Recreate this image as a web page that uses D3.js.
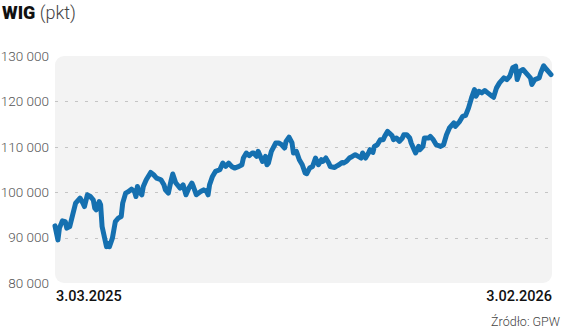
<!DOCTYPE html>
<html><head><meta charset="utf-8">
<script src="https://cdn.jsdelivr.net/npm/d3@7"></script>
<style>body{margin:0;background:#fff}svg{display:block}</style>
</head><body><svg id="c" width="564" height="334"></svg>
<script>
const startDate = "2025-03-03";
const endDate = "2026-02-03";
const dayOffsets = [0,2,3,5,7,8,10,12,14,17,19,20,22,24,26,27,28,30,31,32,34,35,36,37,39,40,41,43,45,46,48,50,52,54,55,56,57,59,60,62,65,67,69,72,74,75,77,79,80,82,85,87,89,91,93,94,96,99,101,103,104,105,107,109,112,114,116,118,120,122,125,127,128,130,132,134,135,137,138,140,141,143,144,145,147,150,152,154,156,157,159,161,162,164,166,168,170,171,173,175,177,178,179,181,182,184,186,187,190,191,193,195,196,198,200,202,204,206,208,209,211,213,214,216,217,219,221,223,224,226,227,229,230,232,234,236,237,239,241,242,244,245,247,248,250,251,254,255,257,259,262,264,266,268,271,272,275,277,279,281,283,285,286,288,290,292,294,297,298,300,302,305,307,309,311,313,314,316,318,320,323,324,326,329,330,332,334,336,337];
const values = [92580,89490,92080,93690,93530,92080,92430,95010,97590,98700,97590,96840,99430,99050,98320,96490,96120,97950,97220,92430,89490,88010,88760,88010,89870,91700,93530,94280,94640,97590,99800,100150,100680,100150,99050,101260,100150,99430,101260,102740,104350,103840,103110,102740,101630,100530,99800,102740,104000,102080,100900,101630,99430,100900,102010,101260,99430,100150,100530,100150,99430,101630,103470,104570,104950,106420,105670,106420,105670,105320,105670,106050,107530,108630,108040,108630,108630,107880,108990,107530,106780,107880,106050,106420,108990,110840,110840,110460,109740,111190,112120,110900,108630,108990,107150,106050,104220,104060,105320,105670,107530,106780,106050,107150,106780,107530,106420,105670,105450,105670,106050,106560,106420,106780,107530,107880,108260,107880,107530,108630,107530,108630,109360,108760,110090,110460,111570,111570,112300,113400,113050,112450,111570,111940,111190,111940,112670,112670,111940,110840,109360,108630,110090,109360,110090,111940,111940,112300,111570,110460,110090,110460,112670,114150,115250,114500,115610,116710,116930,118570,120770,122600,121130,122230,121880,122380,121880,121130,120910,122980,124080,125190,124810,125540,127400,127750,124810,126650,127020,126290,125190,123710,124810,125190,126290,127840,127020,126290,125920];
const yTicks = [80000,90000,100000,110000,120000,130000];
const gridTicks = [90000,100000,110000,120000];
const xLabels = ["3.03.2025","3.02.2026"];
const titleMain = "WIG";
const titleUnit = "(pkt)";
const sourceText = "Źródło: GPW";

const svg = d3.select("#c");
const mL = 55, mR = 552, mT = 56, mB = 283;
const parse = d3.timeParse("%Y-%m-%d");
const d0 = parse(startDate), d1 = parse(endDate);
const data = dayOffsets.map((o,i)=>({date:d3.timeDay.offset(d0,o), value:values[i]}));

const x = d3.scaleTime().domain([d0,d1]).range([mL,mR-1]);
const y = d3.scaleLinear().domain([80000,130000]).range([mB,mT]);

svg.append("rect").attr("x",mL).attr("y",mT).attr("width",mR-mL).attr("height",mB-mT)
  .attr("rx",9).attr("fill","#f3f3f3");

svg.append("g").selectAll("line").data(gridTicks).join("line")
  .attr("x1",mL).attr("x2",mR).attr("y1",d=>Math.round(y(d))+0.5).attr("y2",d=>Math.round(y(d))+0.5)
  .attr("stroke","#c4c4c4").attr("stroke-width",1).attr("stroke-dasharray","3,7");

const fmt = v => d3.format(",")(v).replace(/,/g," ");
const ax = svg.append("g").attr("transform",`translate(${mL},0)`)
  .call(d3.axisLeft(y).tickValues(yTicks).tickSize(0).tickPadding(6).tickFormat(fmt));
ax.select(".domain").remove();
ax.selectAll("text").attr("font-family","Roboto").attr("font-weight",300)
  .attr("font-size","13.5px").attr("fill","#555");

svg.append("path").datum(data)
  .attr("d",d3.line().x(d=>x(d.date)).y(d=>y(d.value)))
  .attr("fill","none").attr("stroke","#1570b0").attr("stroke-width",5)
  .attr("stroke-linejoin","round").attr("stroke-linecap","round");

svg.append("text").attr("x",mL+1).attr("y",301).attr("font-family","Roboto").attr("font-weight",500)
  .attr("font-size","14.5px").attr("fill","#111").text(xLabels[0]);
svg.append("text").attr("x",mR).attr("y",301).attr("text-anchor","end").attr("font-family","Roboto").attr("font-weight",500)
  .attr("font-size","14.5px").attr("fill","#111").text(xLabels[1]);

const t = svg.append("text").attr("x",2).attr("y",19).attr("font-family","Roboto").attr("font-size","18px");
t.append("tspan").attr("font-weight",900).attr("fill","#111").text(titleMain);
t.append("tspan").attr("font-weight",300).attr("fill","#444").text(" "+titleUnit);

svg.append("text").attr("x",560).attr("y",326).attr("text-anchor","end").attr("font-family","Roboto").attr("font-weight",300)
  .attr("font-size","12.5px").attr("fill","#444").text(sourceText);
</script></body></html>
